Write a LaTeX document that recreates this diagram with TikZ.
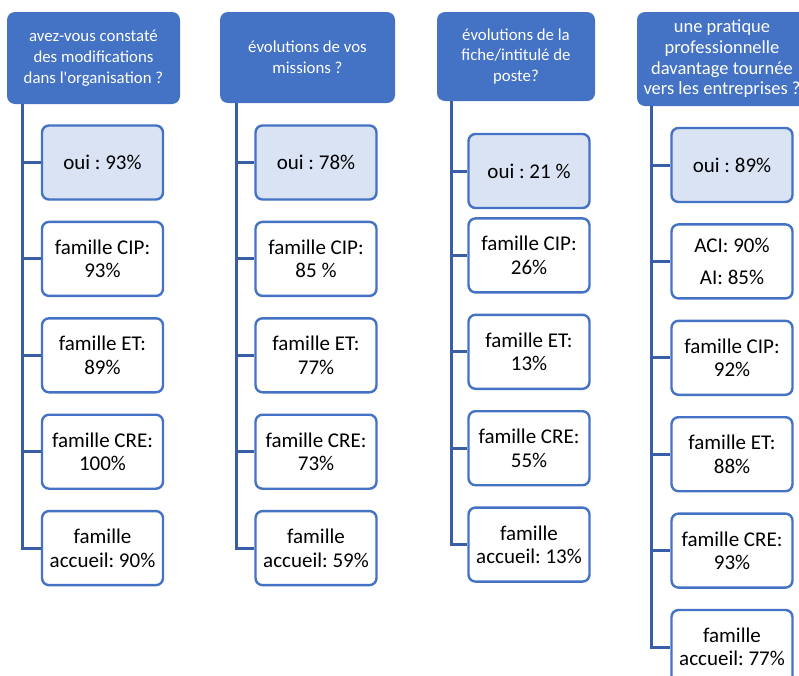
\documentclass[tikz,border=0pt]{standalone}
\usepackage{fontspec}
\setmainfont{Carlito}
\usetikzlibrary{positioning}
\definecolor{qblue}{HTML}{4472C4}
\definecolor{linkblue}{HTML}{3A5DA8}
\definecolor{ouifill}{HTML}{DAE3F3}
\frenchspacing

\begin{document}
\begin{tikzpicture}[x=1pt, y=-1pt]
        \tikzstyle{question} = [rectangle, rounded corners=8pt, fill=qblue,
                                text=white, align=center, inner sep=1pt,
                                font=\fontsize{16.8}{20.8}\selectfont]
        \tikzstyle{answer} = [rectangle, rounded corners=7pt, draw=qblue,
                              line width=2.4pt, fill=white, align=center,
                              minimum width=121pt, minimum height=74pt,
                              font=\fontsize{21}{23.5}\selectfont]
        \tikzstyle{oui} = [answer, fill=ouifill]
        \tikzstyle{link} = [draw=linkblue, line width=3pt]
        \useasboundingbox (0,0) rectangle (799,675);
        \clip (0,0) rectangle (799,675);
        % question 1
        \node[question, minimum width=173pt, minimum height=92pt] (Q1) at (93.5,58)
          {avez-vous constaté\\des modifications\\dans l\textquotesingle organisation ?};
        \node[oui] (oui1) at (102.5,162.5) {oui : 93\%};
        \node[answer, below=20pt of oui1] (cip1) {famille CIP:\\93\%};
        \node[answer, below=20pt of cip1] (et1) {famille ET:\\89\%};
        \node[answer, below=20pt of et1] (cre1) {famille CRE:\\100\%};
        \node[answer, below=20pt of cre1] (acc1) {famille\\accueil: 90\%};
        \coordinate (s1) at ([xshift=16pt]Q1.south west);
        \foreach \a in {oui1,cip1,et1,cre1,acc1}
          \draw[link] (s1) |- (\a.west);
        % question 2
        \node[question, minimum width=175pt, minimum height=91pt] (Q2) at (307.5,57.5)
          {évolutions de vos\\missions ?};
        \node[oui] (oui2) at (316,162.5) {oui : 78\%};
        \node[answer, below=20pt of oui2] (cip2) {famille CIP:\\85 \%};
        \node[answer, below=20pt of cip2] (et2) {famille ET:\\77\%};
        \node[answer, below=20pt of et2] (cre2) {famille CRE:\\73\%};
        \node[answer, below=20pt of cre2] (acc2) {famille\\accueil: 59\%};
        \coordinate (s2) at ([xshift=17pt]Q2.south west);
        \foreach \a in {oui2,cip2,et2,cre2,acc2}
          \draw[link] (s2) |- (\a.west);
        % question 3
        \node[question, minimum width=158pt, minimum height=89pt] (Q3) at (516,56.5)
          {évolutions de la\\fiche/intitulé de\\poste?};
        \node[oui] (oui3) at (529,171) {oui : 21 \%};
        \node[answer, below=8pt of oui3] (cip3) {famille CIP:\\26\%};
        \node[answer, below=20pt of cip3] (et3) {famille ET:\\13\%};
        \node[answer, below=20pt of et3] (cre3) {famille CRE:\\55\%};
        \node[answer, below=20pt of cre3] (acc3) {famille\\accueil: 13\%};
        \coordinate (s3) at ([xshift=15pt]Q3.south west);
        \foreach \a in {oui3,cip3,et3,cre3,acc3}
          \draw[link] (s3) |- (\a.west);
        % question 4
        \node[question, minimum width=170pt, minimum height=94pt,
              font=\fontsize{18.5}{20.7}\selectfont] (Q4) at (722,59)
          {une pratique\\professionnelle\\davantage tournée\\vers les entreprises ?};
        \node[oui] (oui4) at (732,165) {oui : 89\%};
        \node[answer, below=20pt of oui4] (aci4) {ACI: 90\%\\[8pt]AI: 85\%};
        \node[answer, below=20pt of aci4] (cip4) {famille CIP:\\92\%};
        \node[answer, below=20pt of cip4] (et4) {famille ET:\\88\%};
        \node[answer, below=20pt of et4] (cre4) {famille CRE:\\93\%};
        \node[answer, below=20pt of cre4] (acc4) {famille\\accueil: 77\%};
        \coordinate (s4) at ([xshift=15pt]Q4.south west);
        \foreach \a in {oui4,aci4,cip4,et4,cre4,acc4}
          \draw[link] (s4) |- (\a.west);
      \end{tikzpicture}
\end{document}
